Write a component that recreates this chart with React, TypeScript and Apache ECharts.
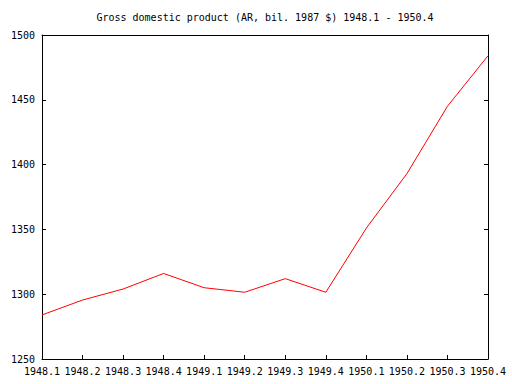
import React, { useEffect, useRef } from "react";
import * as echarts from "echarts";

const categories = [
  "1948.1", "1948.2", "1948.3", "1948.4",
  "1949.1", "1949.2", "1949.3", "1949.4",
  "1950.1", "1950.2", "1950.3", "1950.4",
];
const gdp = [1284, 1295.5, 1304, 1316, 1305, 1301.5, 1312, 1301.5, 1351, 1393, 1445, 1484];
const titleText = "Gross domestic product (AR, bil. 1987 $) 1948.1 - 1950.4";
const yMin = 1250;
const yMax = 1500;
const yStep = 50;

const FONT = "DejaVu Sans Mono";

export default function App() {
  const ref = useRef<HTMLDivElement>(null);
  useEffect(() => {
    if (!ref.current) return;
    const chart = echarts.init(ref.current, undefined, { renderer: "svg" });
    const axisLine = { show: true, lineStyle: { color: "#000", width: 1 } };
    chart.setOption({
      animation: false,
      backgroundColor: "#fff",
      graphic: [
        {
          type: "text",
          x: 265,
          y: 17,
          style: {
            text: titleText,
            fontFamily: FONT,
            fontSize: 10,
            fill: "#000",
            align: "center",
            verticalAlign: "middle",
          },
        },
      ],
      grid: { left: 42, right: 24, top: 35, bottom: 25, containLabel: false },
      xAxis: [
        {
          type: "category",
          data: categories,
          boundaryGap: false,
          axisLine,
          axisTick: { show: true, inside: true, length: 4, lineStyle: { color: "#000" }, alignWithLabel: true },
          axisLabel: { fontFamily: FONT, fontSize: 10, color: "#000", margin: 7, interval: 0 },
          splitLine: { show: false },
        },
        {
          type: "category",
          data: categories,
          boundaryGap: false,
          position: "top",
          axisLine,
          axisTick: { show: false },
          axisLabel: { show: false },
          splitLine: { show: false },
        },
      ],
      yAxis: [
        {
          type: "value",
          min: yMin,
          max: yMax,
          interval: yStep,
          axisLine,
          axisTick: { show: true, inside: true, length: 4, lineStyle: { color: "#000" } },
          axisLabel: {
            fontFamily: FONT,
            fontSize: 10,
            color: "#000",
            margin: 7,
            formatter: (v: number) => String(v),
          },
          splitLine: { show: false },
        },
        {
          type: "value",
          min: yMin,
          max: yMax,
          interval: yStep,
          position: "right",
          axisLine,
          axisTick: { show: true, inside: true, length: 4, lineStyle: { color: "#000" } },
          axisLabel: { show: false },
          splitLine: { show: false },
        },
      ],
      series: [
        {
          type: "line",
          data: gdp,
          xAxisIndex: 0,
          yAxisIndex: 0,
          showSymbol: false,
          symbol: "none",
          lineStyle: { color: "#ff0000", width: 1 },
        },
      ],
    });
    return () => chart.dispose();
  }, []);
  return (
    <div
      ref={ref}
      style={{ position: "fixed", left: 0, top: 0, width: 512, height: 384, background: "#fff" }}
    />
  );
}
